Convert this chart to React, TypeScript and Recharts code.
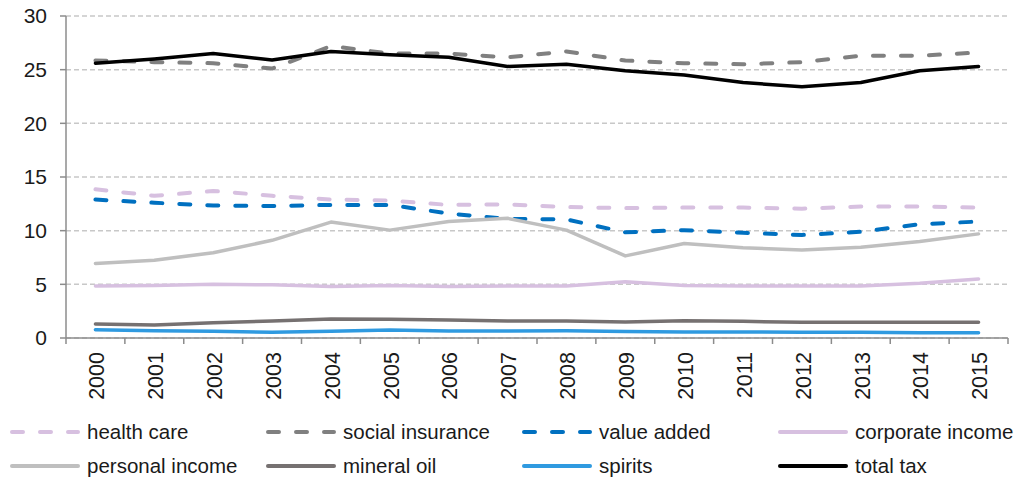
import React from "react";
import { LineChart, Line, XAxis, YAxis, CartesianGrid } from "recharts";

const years = ["2000","2001","2002","2003","2004","2005","2006","2007","2008","2009","2010","2011","2012","2013","2014","2015"];
const healthCare = [13.85,13.25,13.7,13.25,12.9,12.8,12.4,12.45,12.2,12.1,12.15,12.15,12.05,12.25,12.25,12.15];
const socialInsurance = [25.85,25.7,25.6,25.1,27.2,26.5,26.5,26.15,26.7,25.85,25.6,25.5,25.7,26.3,26.3,26.6];
const valueAdded = [12.9,12.6,12.35,12.3,12.4,12.4,11.6,11.1,11.05,9.85,10.05,9.8,9.6,9.9,10.6,10.85];
const corporateIncome = [4.85,4.9,5.0,4.95,4.8,4.9,4.8,4.85,4.85,5.25,4.9,4.85,4.85,4.85,5.1,5.5];
const personalIncome = [6.95,7.25,7.95,9.1,10.8,10.05,10.85,11.15,10.05,7.65,8.8,8.4,8.2,8.45,9.0,9.7];
const mineralOil = [1.3,1.2,1.43,1.58,1.77,1.75,1.68,1.58,1.58,1.49,1.61,1.55,1.46,1.46,1.46,1.46];
const spirits = [0.78,0.68,0.62,0.53,0.62,0.75,0.66,0.66,0.68,0.6,0.56,0.56,0.53,0.53,0.5,0.5];
const totalTax = [25.6,26.0,26.5,25.9,26.7,26.4,26.15,25.3,25.5,24.9,24.5,23.8,23.4,23.8,24.9,25.3];
const yTicks = [0, 5, 10, 15, 20, 25, 30];

const series = [
  { key: "healthCare", name: "health care", values: healthCare, color: "#d7c0e0", dashed: true },
  { key: "socialInsurance", name: "social insurance", values: socialInsurance, color: "#808080", dashed: true },
  { key: "valueAdded", name: "value added", values: valueAdded, color: "#0070c0", dashed: true },
  { key: "corporateIncome", name: "corporate income", values: corporateIncome, color: "#d7c0e0", dashed: false },
  { key: "personalIncome", name: "personal income", values: personalIncome, color: "#bfbfbf", dashed: false },
  { key: "mineralOil", name: "mineral oil", values: mineralOil, color: "#767171", dashed: false },
  { key: "spirits", name: "spirits", values: spirits, color: "#2f9ae0", dashed: false },
  { key: "totalTax", name: "total tax", values: totalTax, color: "#000000", dashed: false },
];

const data = years.map((y, i) => {
  const row: any = { year: y };
  series.forEach((s) => (row[s.key] = s.values[i]));
  return row;
});

const CHART_W = 1018;
const CHART_H = 408;
const Y_W = 66;
const M_RIGHT = 10;
const HALF_BAND = (CHART_W - Y_W - M_RIGHT) / years.length / 2;
const FONT = "'Liberation Sans', Arial, sans-serif";
const AXIS_COLOR = "#8c8c8c";

const XTick = (props: any) => {
  const { x, y, payload, index } = props;
  return (
    <g>
      <line x1={x - HALF_BAND} x2={x - HALF_BAND} y1={y} y2={y + 6} stroke={AXIS_COLOR} strokeWidth={1.5} />
      {index === years.length - 1 && (
        <line x1={x + HALF_BAND} x2={x + HALF_BAND} y1={y} y2={y + 6} stroke={AXIS_COLOR} strokeWidth={1.5} />
      )}
      <text
        x={0}
        y={0}
        transform={`translate(${x + 1},${y + 14}) rotate(-90)`}
        textAnchor="end"
        dy="0.36em"
        fontSize={21.5}
        fontFamily={FONT}
        fill="#1a1a1a"
      >
        {payload.value}
      </text>
    </g>
  );
};

const LegendItem = ({ s }: { s: any }) => (
  <div style={{ display: "flex", alignItems: "center", width: 256, height: 34 }}>
    <svg width={76} height={10} style={{ flex: "none" }}>
      <line
        x1={4}
        x2={70}
        y1={5}
        y2={5}
        stroke={s.color}
        strokeWidth={4}
        strokeLinecap="round"
        strokeDasharray={s.dashed ? "11 17" : undefined}
      />
    </svg>
    <span style={{ fontFamily: FONT, fontSize: 20.5, color: "#1a1a1a", whiteSpace: "nowrap", marginLeft: 3 }}>{s.name}</span>
  </div>
);

export default function App() {
  return (
    <div style={{ position: "absolute", left: 0, top: 0, width: 1018, height: 481, background: "#fff" }}>
      <LineChart width={CHART_W} height={CHART_H} data={data} margin={{ top: 16, right: M_RIGHT, left: 0, bottom: 0 }}>
        <CartesianGrid vertical={false} stroke="#c8c8c8" strokeDasharray="5 3" strokeWidth={1.5} />
        <XAxis
          dataKey="year"
          height={CHART_H - 338}
          interval={0}
          padding={{ left: HALF_BAND, right: HALF_BAND }}
          tick={<XTick />}
          tickSize={0}
          tickMargin={0}
          tickLine={false}
          axisLine={{ stroke: AXIS_COLOR, strokeWidth: 1.5 }}
        />
        <YAxis
          width={Y_W}
          domain={[0, 30]}
          ticks={yTicks}
          interval={0}
          tickSize={6}
          tickMargin={13}
          tickLine={{ stroke: AXIS_COLOR, strokeWidth: 1.5 }}
          axisLine={{ stroke: AXIS_COLOR, strokeWidth: 1.5 }}
          tick={{ fontSize: 21, fontFamily: FONT, fill: "#1a1a1a" }}
        />
        {series.map((s) => (
          <Line
            key={s.key}
            dataKey={s.key}
            name={s.name}
            stroke={s.color}
            strokeWidth={s.dashed ? 4 : 3.5}
            strokeDasharray={s.dashed ? "11 17" : undefined}
            strokeLinecap="round"
            strokeLinejoin="round"
            dot={false}
            activeDot={false}
            type="linear"
            isAnimationActive={false}
          />
        ))}
      </LineChart>
      <div style={{ position: "absolute", left: 8, top: 415, width: 1024, display: "flex", flexWrap: "wrap" }}>
        {series.map((s) => (
          <LegendItem key={s.key} s={s} />
        ))}
      </div>
    </div>
  );
}
